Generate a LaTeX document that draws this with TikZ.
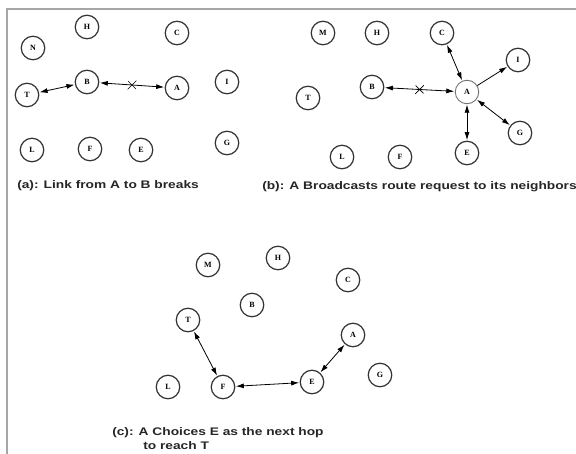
\documentclass[tikz,border=0pt]{standalone}
\usepackage{fontspec}
\setmainfont{Liberation Serif}
\newfontfamily\capfont{Liberation Sans}
\usetikzlibrary{arrows.meta,shapes.misc}
\begin{document}
\begin{tikzpicture}[x=1pt,y=-1pt,
  nd/.style={circle,draw=black!80,line width=1.2pt,minimum size=23.5pt,inner sep=0pt,font=\bfseries\fontsize{8}{9}\selectfont},
  lightnd/.style={nd,draw=black!55,line width=0.9pt},
  lnk/.style={{Latex[length=8pt,width=5pt]}-{Latex[length=8pt,width=5pt]},line width=0.8pt,shorten <=0.5pt,shorten >=0.5pt},
  onelnk/.style={-{Latex[length=8pt,width=5pt]},line width=0.8pt,shorten >=0.5pt},
  xmark/.style={cross out,draw,line width=0.6pt,minimum size=8pt,inner sep=0pt},
  captxt/.style={anchor=west,inner sep=0pt,xscale=1.25,transform shape,font=\capfont\bfseries\fontsize{11}{13}\selectfont,text=black!85}]
\useasboundingbox (0,0) rectangle (576,454);
\fill[white] (0,0) rectangle (576,454);
\draw[black!35,line width=2pt] (7,454) -- (7,9.5) -- (576,9.5);
% panel (a)
\node[nd] (aN) at (33,48) {N};
\node[nd] (aH) at (87,27) {H};
\node[nd] (aC) at (177,33) {C};
\node[nd] (aT) at (27,95) {T};
\node[nd] (aB) at (87,82) {B};
\node[nd] (aA) at (177,88) {A};
\node[nd] (aI) at (227,82) {I};
\node[nd] (aL) at (32,150) {L};
\node[nd] (aF) at (90,149) {F};
\node[nd] (aE) at (141,150) {E};
\node[nd] (aG) at (227,143) {G};
\draw[lnk] (aT) -- (aB);
\draw[lnk] (aB) -- node[xmark]{} (aA);
\node[captxt] (capa) at (17,186) {(a): Link from A to B breaks};
% panel (b)
\node[nd] (bM) at (323,33) {M};
\node[nd] (bH) at (377,33) {H};
\node[nd] (bC) at (442,33) {C};
\node[nd] (bI) at (518,60) {I};
\node[nd] (bB) at (372,87) {B};
\node[nd] (bT) at (308,98) {T};
\node[lightnd] (bA) at (467,92) {A};
\node[nd] (bG) at (520,133) {G};
\node[nd] (bE) at (467,153) {E};
\node[nd] (bL) at (342,157) {L};
\node[nd] (bF) at (400,157) {F};
\draw[lnk] (bB) -- node[xmark]{} (bA);
\draw[lnk] (bA) -- (bC);
\draw[onelnk] (bA) -- (bI);
\draw[lnk] (bA) -- (bG);
\draw[lnk] (bA) -- (bE);
\node[captxt] (capb) at (262,187) {(b): A Broadcasts route request to its neighbors};
% panel (c)
\node[nd] (cM) at (208,265) {M};
\node[nd] (cH) at (278,258) {H};
\node[nd] (cC) at (348,280) {C};
\node[nd] (cB) at (252,305) {B};
\node[nd] (cT) at (188,320) {T};
\node[nd] (cA) at (353,335) {A};
\node[nd] (cG) at (380,375) {G};
\node[nd] (cE) at (312,382) {E};
\node[nd] (cF) at (223,387) {F};
\node[nd] (cL) at (168,387) {L};
\draw[lnk] (cT) -- (cF);
\draw[lnk] (cF) -- (cE);
\draw[lnk] (cE) -- (cA);
\node[captxt] (capc1) at (112,433) {(c): A Choices E as the next hop};
\node[captxt] (capc2) at (143,446) {to reach T};
\end{tikzpicture}
\end{document}
